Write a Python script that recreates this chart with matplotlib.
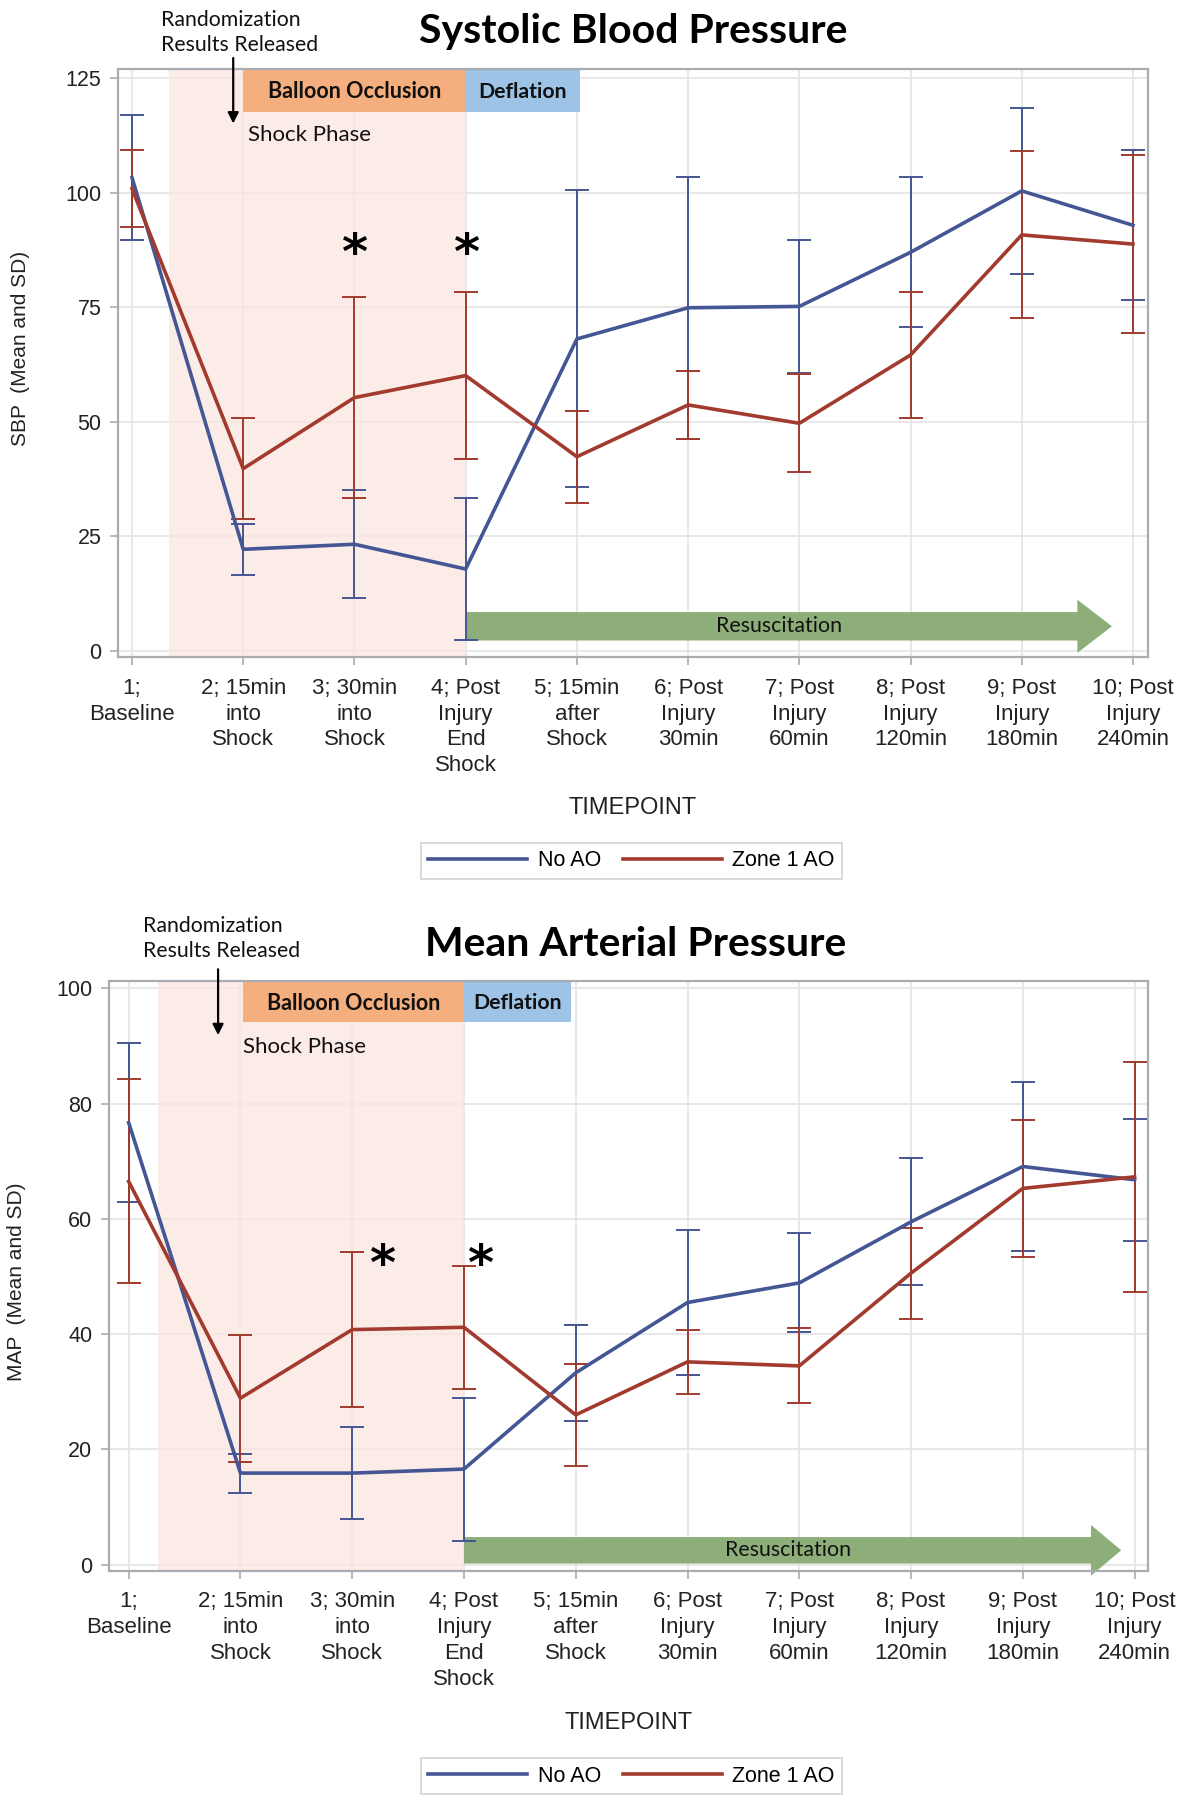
import matplotlib
matplotlib.use("Agg")
import matplotlib.pyplot as plt
from matplotlib.patches import Rectangle, FancyArrow
from matplotlib.lines import Line2D
import numpy as np

# ---------------- data ----------------
timepoints = list(range(1, 11))
tick_labels = ["1;\nBaseline", "2; 15min\ninto\nShock", "3; 30min\ninto\nShock",
               "4; Post\nInjury\nEnd\nShock", "5; 15min\nafter\nShock",
               "6; Post\nInjury\n30min", "7; Post\nInjury\n60min",
               "8; Post\nInjury\n120min", "9; Post\nInjury\n180min",
               "10; Post\nInjury\n240min"]
groups = ["No AO", "Zone 1 AO"]

sbp_noao_mean = [103.3, 22.2, 23.3, 17.9, 68.1, 74.9, 75.2, 87.0, 100.4, 92.9]
sbp_noao_sd = [13.7, 5.6, 11.8, 15.5, 32.4, 28.6, 14.5, 16.4, 18.1, 16.4]
sbp_zone1_mean = [100.9, 39.8, 55.3, 60.1, 42.4, 53.7, 49.7, 64.6, 90.8, 88.8]
sbp_zone1_sd = [8.4, 11.0, 22.0, 18.3, 10.0, 7.4, 10.7, 13.8, 18.2, 19.4]

map_noao_mean = [76.7, 15.9, 15.9, 16.6, 33.3, 45.5, 48.9, 59.5, 69.1, 66.8]
map_noao_sd = [13.8, 3.4, 8.0, 12.4, 8.3, 12.6, 8.6, 11.0, 14.7, 10.6]
map_zone1_mean = [66.5, 28.9, 40.8, 41.2, 26.0, 35.2, 34.5, 50.6, 65.3, 67.3]
map_zone1_sd = [17.7, 11.0, 13.4, 10.7, 8.8, 5.6, 6.5, 7.9, 11.9, 19.9]

sbp_ticks = [0, 25, 50, 75, 100, 125]
map_ticks = [0, 20, 40, 60, 80, 100]

# ---------------- style ----------------
BLUE = "#445694"
RED = "#A23A2E"
FRAME = "#a9adb1"
GRID = "#e6e6e6"
PINK = "#fce6e1"
ORANGE = "#f5ae7e"
LBLUE = "#9dc3e6"
GREEN = "#8dae79"
AX_FONT = ["Liberation Sans", "DejaVu Sans"]
ANN_FONT = ["Lato", "DejaVu Sans"]

W, H = 1187, 1800
fig = plt.figure(figsize=(W / 100, H / 100), dpi=100)


def make_panel(rect, ylim, xlim, yticks, ylab, title, title_xy, ylab_xy,
               series, shade_x0, occl, defl, shock_txt, rand_txt, arrow_x, arrow_y,
               stars, green, xlab_y, leg_y):
    ax = fig.add_axes(rect)
    ax.set_xlim(*xlim)
    ax.set_ylim(*ylim)
    ax.set_axisbelow(True)
    ax.grid(True, color=GRID, lw=1.3, zorder=0)
    for s in ax.spines.values():
        s.set_color(FRAME)
        s.set_linewidth(1.6)
    ax.set_xticks(timepoints)
    ax.set_xticklabels(tick_labels, fontfamily=AX_FONT, fontsize=16,
                       linespacing=1.3, color="#222222")
    ax.set_yticks(yticks)
    ax.set_yticklabels([str(t) for t in yticks], fontfamily=AX_FONT, fontsize=15.5,
                       color="#222222")
    ax.tick_params(axis="both", direction="out", length=6, width=1.2, color=FRAME)
    ax.tick_params(axis="x", pad=9)
    ax.tick_params(axis="y", pad=6)

    ytop = ylim[1]
    # shock phase shading
    ax.axvspan(shade_x0, 4.0, color=PINK, alpha=0.75, zorder=0.6, lw=0)
    # balloon occlusion / deflation boxes
    ax.add_patch(Rectangle((occl[0], occl[2]), occl[1] - occl[0], ytop - occl[2],
                           facecolor=ORANGE, edgecolor="none", zorder=1.5))
    ax.text((occl[0] + occl[1]) / 2, (occl[2] + ytop) / 2 - 0.3, "Balloon Occlusion",
            ha="center", va="center", fontsize=15.5, fontweight="bold",
            fontfamily=ANN_FONT, color="#111111", zorder=3)
    ax.add_patch(Rectangle((defl[0], defl[2]), defl[1] - defl[0], ytop - defl[2],
                           facecolor=LBLUE, edgecolor="none", zorder=1.5))
    ax.text((defl[0] + defl[1]) / 2, (defl[2] + ytop) / 2 - 0.3, "Deflation",
            ha="center", va="center", fontsize=15.3, fontweight="bold",
            fontfamily=ANN_FONT, color="#111111", zorder=3)
    ax.text(shock_txt[0], shock_txt[1], "Shock Phase", ha="left", va="center",
            fontsize=16, fontfamily=ANN_FONT, color="#111111", zorder=3)
    ax.text(rand_txt[0], rand_txt[1], "Randomization\nResults Released", ha="left",
            va="center", fontsize=15.3, fontfamily=ANN_FONT, color="#111111",
            linespacing=1.3, clip_on=False, zorder=3)
    ax.annotate("", xy=(arrow_x, arrow_y[1]), xytext=(arrow_x, arrow_y[0]),
                arrowprops=dict(arrowstyle="-|>", color="black", lw=1.6,
                                mutation_scale=16),
                annotation_clip=False, zorder=3)
    for sx, sy in stars:
        ax.text(sx, sy, "*", ha="center", va="center", fontsize=36,
                fontweight="bold", fontfamily=["DejaVu Sans"], color="black", zorder=3)
    gx0, gx1, gyc, gw, ghw, ghl, gtx = green
    ax.add_patch(FancyArrow(gx0, gyc, gx1 - gx0, 0, width=gw, head_width=ghw,
                            head_length=ghl, length_includes_head=True,
                            facecolor=GREEN, edgecolor="none", zorder=1.6,
                            clip_on=False))
    ax.text(gtx, gyc, "Resuscitation", ha="center", va="center", fontsize=15.4,
            fontfamily=ANN_FONT, color="#111111", zorder=3)

    for (mean, sd, col) in series:
        ax.errorbar(timepoints, mean, yerr=sd, color=col, lw=2.6, elinewidth=1.4,
                    capsize=8.5, capthick=1.4, zorder=4)

    fig.text(title_xy[0], title_xy[1], title, ha="center", va="center",
             fontsize=29.5, fontweight="bold", fontfamily=ANN_FONT, color="black")
    fig.text(ylab_xy[0], ylab_xy[1], ylab, rotation=90, ha="center", va="center",
             fontsize=15, fontfamily=AX_FONT, color="#222222")
    fig.text(0.5 * (rect[0] * 2 + rect[2]) - 0.0, xlab_y, "TIMEPOINT", ha="center",
             va="center", fontsize=17, fontfamily=AX_FONT, color="#222222")
    handles = [Line2D([], [], color=BLUE, lw=2.6), Line2D([], [], color=RED, lw=2.6)]
    leg = fig.legend(handles, groups, loc="center", bbox_to_anchor=(0.532, leg_y),
                     ncol=2, frameon=True, fancybox=False, handlelength=4.6,
                     handletextpad=0.5, columnspacing=1.0, borderpad=0.35,
                     prop=dict(family=AX_FONT, size=15.5))
    leg.get_frame().set_edgecolor("#c8c8c8")
    leg.get_frame().set_linewidth(1.2)
    return ax


# top panel: Systolic Blood Pressure
make_panel(rect=[118 / W, 1 - 657 / H, (1148 - 118) / W, (657 - 69) / H],
           ylim=(-1.3, 127), xlim=(0.874, 10.135), yticks=sbp_ticks,
           ylab="SBP  (Mean and SD)", title="Systolic Blood Pressure",
           title_xy=(633 / W, 1 - 31 / H), ylab_xy=(21 / W, 1 - 348 / H),
           series=[(sbp_noao_mean, sbp_noao_sd, BLUE), (sbp_zone1_mean, sbp_zone1_sd, RED)],
           shade_x0=1.33, occl=(2.0, 4.0, 117.7), defl=(4.0, 5.03, 117.7),
           shock_txt=(2.04, 112.6), rand_txt=(1.26, 135.0), arrow_x=1.91,
           arrow_y=(130.0, 114.5), stars=[(3.0, 86.5), (4.0, 86.5)],
           green=(4.0, 9.81, 5.4, 6.2, 11.6, 0.31, 6.82),
           xlab_y=1 - 808 / H, leg_y=1 - 861 / H)

# bottom panel: Mean Arterial Pressure
make_panel(rect=[109 / W, 1 - 1570.5 / H, (1148 - 109) / W, (1570.5 - 981.5) / H],
           ylim=(-1.0, 101.2), xlim=(0.824, 10.12), yticks=map_ticks,
           ylab="MAP  (Mean and SD)", title="Mean Arterial Pressure",
           title_xy=(636 / W, 1 - 944 / H), ylab_xy=(17 / W, 1 - 1282 / H),
           series=[(map_noao_mean, map_noao_sd, BLUE), (map_zone1_mean, map_zone1_sd, RED)],
           shade_x0=1.26, occl=(2.02, 4.0, 94.2), defl=(4.0, 4.96, 94.2),
           shock_txt=(2.02, 89.8), rand_txt=(1.13, 108.6), arrow_x=1.80,
           arrow_y=(103.8, 91.4), stars=[(3.27, 51.8), (4.14, 51.8)],
           green=(4.0, 9.88, 2.5, 4.6, 8.8, 0.27, 6.9),
           xlab_y=1 - 1723 / H, leg_y=1 - 1776 / H)

fig.savefig("out.png", dpi=100, facecolor="white")
